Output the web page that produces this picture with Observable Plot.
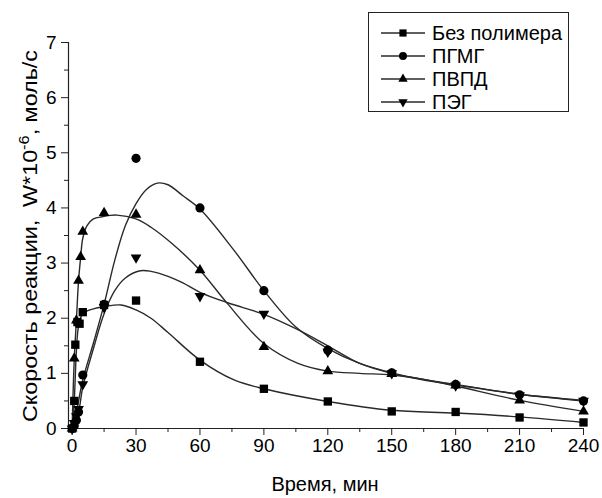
<!DOCTYPE html>
<html><head><meta charset="utf-8">
<script src="https://cdn.jsdelivr.net/npm/d3@7"></script>
<script src="https://cdn.jsdelivr.net/npm/@observablehq/plot@0.6"></script>
<style>
body{margin:0;background:#fff;}
#chart svg{font-family:"Liberation Sans", Arial, sans-serif;}
</style>
</head><body><div id="chart"></div>
<script>
// Series names (legend order)
const seriesNames = ["Без полимера", "ПГМГ", "ПВПД", "ПЭГ"];

// Measured points
const tNoPolymer = [0, 1, 1.5, 2.5, 3.5, 5, 15, 30, 60, 90, 120, 150, 180, 210, 240];
const vNoPolymer = [0, 0.5, 1.52, 1.93, 1.9, 2.11, 2.24, 2.32, 1.21, 0.72, 0.49, 0.31, 0.30, 0.20, 0.11];
const tPGMG = [0, 1, 2, 3, 5, 15, 30, 60, 90, 120, 150, 180, 210, 240];
const vPGMG = [0, 0.05, 0.15, 0.3, 0.97, 2.25, 4.9, 4.0, 2.5, 1.42, 1.01, 0.8, 0.61, 0.5];
const tPVPD = [0, 1, 2, 3, 4, 5, 15, 30, 60, 90, 120, 150, 180, 210, 240];
const vPVPD = [0, 1.27, 1.96, 2.68, 3.11, 3.57, 3.91, 3.88, 2.87, 1.48, 1.04, 0.99, 0.78, 0.51, 0.31];
const tPEG = [0, 1, 2, 3, 5, 15, 30, 60, 90, 120, 150, 180, 210, 240];
const vPEG = [0, 0.1, 0.22, 0.35, 0.8, 2.2, 3.1, 2.4, 2.08, 1.39, 1.0, 0.78, 0.6, 0.5];

// Fitted curves
const fitTNoPolymer = [0, 1, 2, 3, 5, 10, 15, 23, 30, 37, 45, 60, 76, 90, 120, 150, 180, 210, 240];
const fitVNoPolymer = [0, 0.5, 1.4, 1.85, 2.08, 2.17, 2.21, 2.24, 2.15, 2.0, 1.74, 1.24, 0.88, 0.72, 0.49, 0.33, 0.28, 0.21, 0.11];
const fitTPGMG = [0, 2, 5, 10, 15, 20, 25, 30, 35, 40, 45, 52, 60, 76, 90, 105, 120, 135, 150, 165, 180, 210, 240];
const fitVPGMG = [0, 0.3, 0.88, 1.55, 2.25, 3.05, 3.68, 4.08, 4.34, 4.45, 4.42, 4.22, 3.98, 3.23, 2.5, 1.84, 1.45, 1.18, 1.01, 0.89, 0.8, 0.62, 0.51];
const fitTPVPD = [0, 1, 2, 3, 4, 5, 7, 10, 14, 21, 30, 37, 47, 60, 73, 90, 106, 120, 135, 150, 165, 180, 210, 240];
const fitVPVPD = [0, 1.25, 1.96, 2.67, 3.1, 3.45, 3.68, 3.8, 3.84, 3.87, 3.8, 3.65, 3.35, 2.87, 2.26, 1.54, 1.18, 1.04, 1.0, 0.97, 0.89, 0.77, 0.51, 0.31];
const fitTPEG = [0, 3, 5, 10, 15, 20, 25, 32, 37, 45, 52, 60, 73, 90, 105, 120, 135, 150, 165, 180, 210, 240];
const fitVPEG = [0, 0.3, 0.75, 1.45, 2.08, 2.5, 2.73, 2.86, 2.85, 2.76, 2.64, 2.47, 2.28, 2.07, 1.81, 1.5, 1.18, 1.0, 0.88, 0.79, 0.62, 0.5];

// Ticks
const xMajorTicks = [0, 30, 60, 90, 120, 150, 180, 210, 240];
const xMinorTicks = [15, 45, 75, 105, 135, 165, 195, 225];
const yMajorTicks = [0, 1, 2, 3, 4, 5, 6, 7];
const yMinorTicks = [0.5, 1.5, 2.5, 3.5, 4.5, 5.5, 6.5];

const xTitle = "Время, мин";
const yTitleParts = ["Скорость реакции,  W*10", "-6", ", моль/с"];

// Symbols
const downTriangle = {
  draw(context, size) {
    const y = -Math.sqrt(size / (3 * Math.sqrt(3)));
    context.moveTo(0, -y * 2);
    context.lineTo(-Math.sqrt(3) * y, y);
    context.lineTo(Math.sqrt(3) * y, y);
    context.closePath();
  }
};
const symbols = [d3.symbolSquare, d3.symbolCircle, d3.symbolTriangle, downTriangle];
const radii = [4.7, 4.6, 4.0, 4.0];

const pointT = [tNoPolymer, tPGMG, tPVPD, tPEG];
const pointV = [vNoPolymer, vPGMG, vPVPD, vPEG];
const fitT = [fitTNoPolymer, fitTPGMG, fitTPVPD, fitTPEG];
const fitV = [fitVNoPolymer, fitVPGMG, fitVPVPD, fitVPEG];

const fits = seriesNames.map((s, i) => fitT[i].map((t, j) => ({series: s, t, v: fitV[i][j]})));
const pts = seriesNames.map((s, i) => pointT[i].map((t, j) => ({series: s, t, v: pointV[i][j]})));

const xDomain = [-1.7, 240];
const yDomain = [0, 7];

const lineColor = "#2a2a2a";
const fmt = d => String(d);

const marks = [
  Plot.ruleY([yDomain[0]], {stroke: "#222", strokeWidth: 1.2}),
  Plot.ruleX([xDomain[0]], {stroke: "#222", strokeWidth: 1.2}),
  Plot.axisX({ticks: xMajorTicks, tickFormat: fmt, tickSize: 7, tickPadding: 3, label: null, stroke: "#222", fill: "#000", ariaLabel: "xmajor"}),
  Plot.axisX({ticks: xMinorTicks, tickSize: 4, text: null, label: null, stroke: "#222"}),
  Plot.axisY({ticks: yMajorTicks, tickFormat: fmt, tickSize: 7, tickPadding: 5, label: null, stroke: "#222", fill: "#000", ariaLabel: "ymajor"}),
  Plot.axisY({ticks: yMinorTicks, tickSize: 4, text: null, label: null, stroke: "#222"}),
];
fits.forEach(f => marks.push(Plot.line(f, {x: "t", y: "v", curve: "catmull-rom", stroke: lineColor, strokeWidth: 1.4})));
pts.forEach((p, i) => marks.push(Plot.dot(p, {x: "t", y: "v", symbol: symbols[i], r: radii[i], fill: "#000", stroke: "none"})));

const chart = Plot.plot({
  width: 602, height: 498,
  marginLeft: 68, marginRight: 19, marginTop: 42, marginBottom: 70,
  x: {domain: xDomain},
  y: {domain: yDomain},
  style: {fontFamily: "'Liberation Sans', Arial, sans-serif", fontSize: "19px", color: "#000", background: "#fff", overflow: "visible"},
  marks
});
document.getElementById("chart").appendChild(chart);

const svg = d3.select(chart);
// Enlarge tick labels
svg.selectAll("g[aria-label$='tick label'], g[aria-label='xmajor'], g[aria-label='ymajor']")
  .attr("font-size", 19).style("font-size", "19px");
svg.selectAll("text").filter(function() { return /^\d+$/.test(this.textContent); })
  .attr("font-size", 19).style("font-size", "19px");

// X title
svg.append("text").attr("x", 325).attr("y", 491).attr("text-anchor", "middle")
  .attr("font-size", 20).attr("fill", "#000").text(xTitle);
// Y title with superscript
const yt = svg.append("text").attr("transform", "translate(37,236) rotate(-90)")
  .attr("text-anchor", "middle").attr("font-size", 20).attr("fill", "#000")
  .attr("xml:space", "preserve").style("white-space", "pre")
  .attr("textLength", 372).attr("lengthAdjust", "spacingAndGlyphs");
yt.append("tspan").text(yTitleParts[0]);
yt.append("tspan").attr("dy", -8).attr("font-size", 14).text(yTitleParts[1]);
yt.append("tspan").attr("dy", 8).text(yTitleParts[2]);

// Legend
const lg = svg.append("g");
lg.append("rect").attr("x", 368.5).attr("y", 12.5).attr("width", 200).attr("height", 99)
  .attr("fill", "#fff").attr("stroke", "#222").attr("stroke-width", 1);
seriesNames.forEach((s, i) => {
  const cy = 33 + i * 23;
  lg.append("line").attr("x1", 381).attr("x2", 425).attr("y1", cy).attr("y2", cy)
    .attr("stroke", lineColor).attr("stroke-width", 1.3);
  lg.append("path").attr("transform", `translate(403,${cy})`)
    .attr("d", d3.symbol().type(symbols[i]).size(Math.PI * radii[i] * radii[i] * 0.75)()).attr("fill", "#000");
  lg.append("text").attr("x", 432).attr("y", cy).attr("dy", "0.36em").attr("font-size", 20)
    .attr("text-anchor", "start").attr("fill", "#000").text(s);
});
</script>
</body></html>
